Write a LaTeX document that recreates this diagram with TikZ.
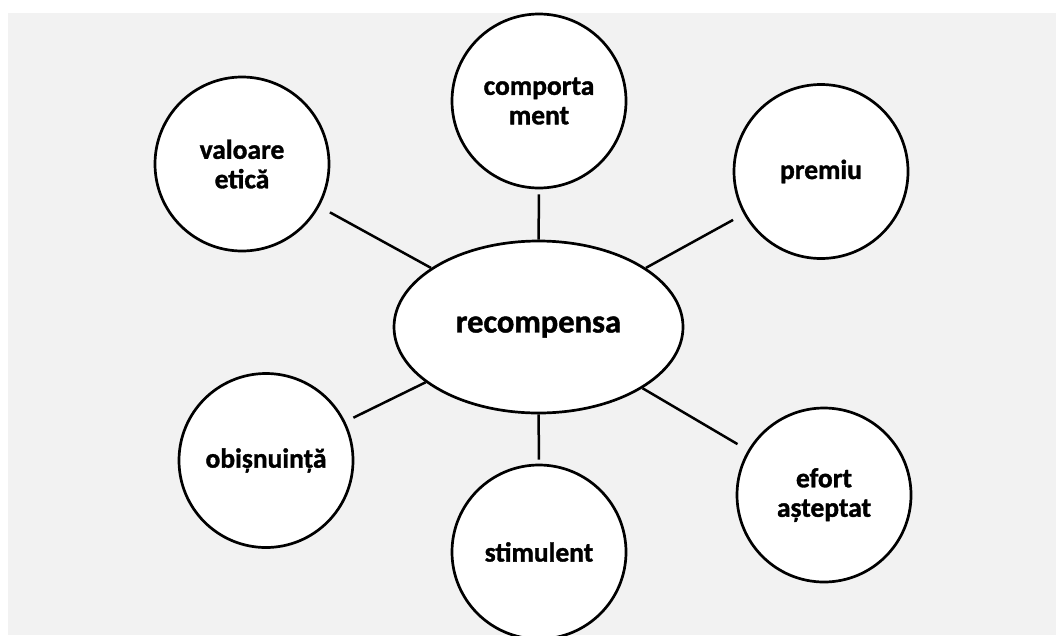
\documentclass[tikz,border=0pt]{standalone}
\usepackage{fontspec}
\setmainfont{Carlito}[BoldFeatures={FakeBold=1.3}]
\usetikzlibrary{shapes.geometric}
\definecolor{bggray}{HTML}{F2F2F2}
\tikzset{
  bubble/.style={circle, draw=black, line width=2.7pt, fill=white, minimum size=174pt, inner sep=0pt, align=center,
    font=\fontsize{27.5}{29.5}\selectfont\bfseries},
  hub/.style={ellipse, draw=black, line width=2.7pt, fill=white, minimum width=289pt, minimum height=172pt, inner sep=0pt,
    font=\fontsize{32.5}{35}\selectfont\bfseries},
  link/.style={draw=black, line width=2.5pt}
}
\begin{document}
\begin{tikzpicture}[x=1pt,y=-1pt]
\useasboundingbox (0,0) rectangle (1056,635);
\clip (0,0) rectangle (1056,635);
\fill[bggray] (8,13) rectangle (1056,635);
\node[hub] (rec) at (538.5,327) {recompensa};
\node[bubble] (val) at (242,164) {valoare\\etică};
\node[bubble] (comp) at (539,101) {comporta\\ment};
\node[bubble] (prem) at (821,171.5) {premiu};
\node[bubble] (obis) at (266,460.5) {obișnuință};
\node[bubble] (stim) at (539,552) {stimulent};
\node[bubble] (efort) at (824,495) {efort\\așteptat};
\draw[link, shorten >=12pt] (rec) -- (val);
\draw[link, shorten >=5pt] (rec) -- (comp);
\draw[link, shorten >=12pt] (rec) -- (prem);
\draw[link, shorten >=9pt] (rec) -- (obis);
\draw[link, shorten >=4pt] (rec) -- (stim);
\draw[link, shorten >=12pt] (rec) -- (efort);
\end{tikzpicture}
\end{document}
